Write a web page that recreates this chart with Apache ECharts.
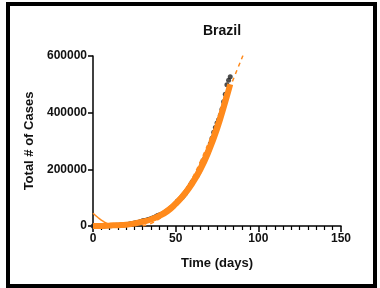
<!DOCTYPE html>
<html>
<head>
<meta charset="utf-8">
<script src="https://cdn.jsdelivr.net/npm/echarts@6/dist/echarts.min.js"></script>
<style>
  html, body { margin: 0; padding: 0; background: #fff; }
  #chart { width: 380px; height: 288px; }
</style>
</head>
<body>
<div id="chart"></div>
<script>
// cumulative cases, one value per day starting at day 0
var caseDays = [];
var caseValues = [34, 52, 77, 98, 121, 200, 234, 346, 529, 640, 970, 1178, 1546, 1924, 2247, 2554, 2985, 3417, 3904, 4256, 4579, 5717, 6836, 8044, 9056, 10360, 11130, 12161, 14034, 16170, 18092, 19638, 20727, 22169, 23430, 25262, 28320, 30425, 33682, 36658, 38654, 40581, 43079, 45757, 50036, 54043, 59324, 63100, 67446, 73235, 79685, 87187, 92202, 97100, 101826, 108620, 115455, 126611, 135773, 146894, 156061, 162699, 169594, 178214, 190137, 203165, 220291, 233511, 241080, 255368, 271885, 291579, 310087, 330890, 347398, 363211, 374898, 391222, 411821, 438238, 465166, 498440, 514849, 526447];
for (var i = 0; i < caseValues.length; i++) caseDays.push(i);

// thick orange fit along the data
var bandDays = [0, 5, 10, 15, 20, 25, 30, 35, 40, 45, 50, 55, 60, 65, 70, 75, 80, 83];
var bandValues = [0, 300, 1500, 3000, 4500, 9000, 15000, 23000, 35000, 52000, 78000, 110000, 150000, 200000, 264000, 342000, 438000, 500000];

// thin polynomial fit
var polyDays = [0, 3, 6, 9, 12, 15, 20, 25, 30, 35, 40, 45, 50, 55, 60, 65, 70, 75, 80];
var polyValues = [45000, 30000, 17000, 7000, 1500, 0, 2500, 8000, 17000, 29000, 45000, 64000, 90000, 124000, 166000, 222000, 290000, 372000, 470000];

// dashed fit extending past the data
var dashDays = [30, 35, 40, 45, 50, 55, 60, 65, 70, 75, 80, 85, 92];
var dashValues = [0, 9000, 25000, 48000, 78000, 118000, 168000, 228000, 295000, 368000, 445000, 520000, 620000];

function pairs(xs, ys) {
    var out = [];
    for (var i = 0; i < xs.length; i++) out.push([xs[i], ys[i]]);
    return out;
}

var orange = '#ff8a1c';
var font = 'Liberation Sans, Arial, sans-serif';

var chart = echarts.init(document.getElementById('chart'));
var option = {
    animation: false,
    title: {
        text: 'Brazil',
        left: 217,
        top: 19,
        textAlign: 'center',
        textStyle: { fontFamily: font, fontSize: 14, fontWeight: 'bold', color: '#111' }
    },
    grid: { left: 93, right: 39, top: 56, bottom: 62 },
    xAxis: {
        type: 'value',
        min: 0,
        max: 150,
        interval: 50,
        name: 'Time (days)',
        nameLocation: 'middle',
        nameGap: 31,
        nameTextStyle: { fontFamily: font, fontSize: 13, fontWeight: 'bold', color: '#111' },
        axisLine: { show: true, lineStyle: { color: '#000', width: 1.5 } },
        axisTick: { show: true, length: 6, lineStyle: { color: '#000', width: 1.5 } },
        minorTick: { show: true, splitNumber: 10, length: 4, lineStyle: { color: '#000', width: 1.2 } },
        axisLabel: { fontFamily: font, fontSize: 12, fontWeight: 'bold', color: '#111', margin: 7 },
        splitLine: { show: false }
    },
    yAxis: {
        type: 'value',
        min: 0,
        max: 600000,
        interval: 200000,
        name: 'Total # of Cases',
        nameLocation: 'middle',
        nameGap: 54,
        nameTextStyle: { fontFamily: font, fontSize: 13, fontWeight: 'bold', color: '#111' },
        axisLine: { show: true, lineStyle: { color: '#000', width: 1.5 } },
        axisTick: { show: true, length: 5, lineStyle: { color: '#000', width: 1.5 } },
        axisLabel: {
            fontFamily: font, fontSize: 12, fontWeight: 'bold', color: '#111', margin: 6,
            formatter: function (v) { return String(v); }
        },
        splitLine: { show: false }
    },
    series: [
        {
            type: 'scatter',
            data: pairs(caseDays, caseValues),
            symbol: 'circle',
            symbolSize: 5,
            itemStyle: { color: '#222' },
            z: 2
        },
        {
            type: 'line',
            data: pairs(bandDays, bandValues),
            smooth: true,
            showSymbol: false,
            lineStyle: { color: orange, width: 6 },
            z: 3
        },
        {
            type: 'line',
            data: pairs(polyDays, polyValues),
            smooth: true,
            showSymbol: false,
            lineStyle: { color: orange, width: 1.5 },
            z: 4
        },
        {
            type: 'line',
            data: pairs(dashDays, dashValues),
            smooth: true,
            showSymbol: false,
            lineStyle: { color: orange, width: 1.5, type: [4, 4] },
            z: 4
        }
    ],
    graphic: [
        {
            type: 'rect',
            shape: { x: 8, y: 4, width: 367, height: 282 },
            style: { fill: 'none', stroke: '#000', lineWidth: 4 },
            silent: true
        }
    ]
};
chart.setOption(option);
</script>
</body>
</html>
